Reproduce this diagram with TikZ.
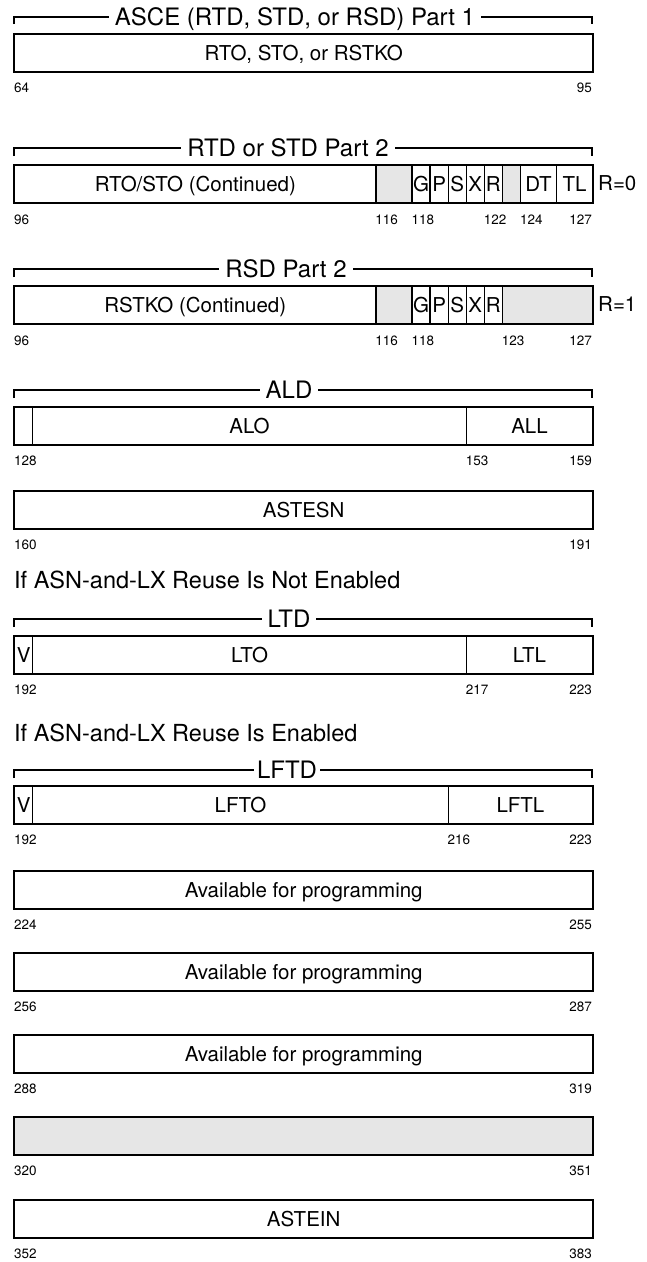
\documentclass[tikz,border=0pt]{standalone}
\usepackage{fontspec}
\setmainfont{TeX Gyre Heros}
\definecolor{shade}{HTML}{E6E6E6}
\tikzset{
  fld/.style={draw, line width=1.4pt, minimum height=37pt, inner sep=0pt,
    font=\fontsize{20.5}{21}\selectfont, text height=14.7pt, text depth=0pt, anchor=north west},
  gfld/.style={fld, fill=shade},
  outer/.style={draw, line width=2pt},
  num/.style={font=\fontsize{13.5}{14}\selectfont, inner sep=0pt, text height=9.7pt, text depth=0pt},
  ttl/.style={fill=white, font=\fontsize{24}{25}\selectfont, inner xsep=6pt, inner ysep=1pt,
    text height=17.2pt, text depth=0pt},
  brk/.style={line width=1.6pt},
  cond/.style={font=\fontsize{23.5}{25}\selectfont, anchor=west, inner sep=0pt,
    text height=16.8pt, text depth=0pt},
  side/.style={font=\fontsize{20.5}{21}\selectfont, anchor=west, inner sep=0pt,
    text height=14.7pt, text depth=0pt},
}
\begin{document}
\begin{tikzpicture}[x=1pt, y=-1pt]
\useasboundingbox (0,0) rectangle (647,1262);

% ---------- Row 1 : ASCE Part 1 ----------
\draw[brk] (14,24) -- (14,17) -- (592,17) -- (592,24);
\node[ttl] (t1) at (295,17) {ASCE (RTD, STD, or RSD) Part 1};
\node[fld, minimum width=578pt] (r1) at (14,34) {RTO, STO, or RSTKO};
\draw[outer] (r1.north west) rectangle (r1.south east);
\node[num, anchor=west] (n64) at (14,88) {64};
\node[num, anchor=east] (n95) at (592,88) {95};

% ---------- Row 2 : RTD or STD Part 2 ----------
\draw[brk] (14,156) -- (14,148) -- (592,148) -- (592,156);
\node[ttl] (t2) at (288,148) {RTD or STD Part 2};
\node[fld, minimum width=361.25pt] (rto) at (14,165) {RTO/STO (Continued)};
\node[gfld, minimum width=36.15pt] (g2a) at (375.25,165) {};
\node[fld, minimum width=18.05pt] (g2) at (411.4,165) {G};
\node[fld, minimum width=18.1pt] (p2) at (429.4,165) {P};
\node[fld, minimum width=18.1pt] (s2) at (447.5,165) {S};
\node[fld, minimum width=18.05pt] (x2) at (465.6,165) {X};
\node[fld, minimum width=18.1pt] (rr2) at (483.6,165) {R};
\node[gfld, minimum width=18.1pt] (g2b) at (501.7,165) {};
\node[fld, minimum width=36.1pt] (dt) at (519.8,165) {DT};
\node[fld, minimum width=36.1pt] (tl) at (555.9,165) {TL};
\draw[outer] (rto.north west) rectangle (tl.south east);
\node[side] (r0) at (598,183.5) {R=0};
\node[num, anchor=west] (n96a) at (14,220) {96};
\node[num, anchor=west] (n116a) at (375.25,220) {116};
\node[num, anchor=west] (n118a) at (411.4,220) {118};
\node[num, anchor=west] (n122a) at (483.6,220) {122};
\node[num, anchor=west] (n124a) at (519.8,220) {124};
\node[num, anchor=east] (n127a) at (592,220) {127};

% ---------- Row 3 : RSD Part 2 ----------
\draw[brk] (14,277) -- (14,269) -- (592,269) -- (592,277);
\node[ttl] (t3) at (286,269) {RSD Part 2};
\node[fld, minimum width=361.25pt] (rstko) at (14,286) {RSTKO (Continued)};
\node[gfld, minimum width=36.15pt] (g3a) at (375.25,286) {};
\node[fld, minimum width=18.05pt] (g3) at (411.4,286) {G};
\node[fld, minimum width=18.1pt] (p3) at (429.4,286) {P};
\node[fld, minimum width=18.1pt] (s3) at (447.5,286) {S};
\node[fld, minimum width=18.05pt] (x3) at (465.6,286) {X};
\node[fld, minimum width=18.1pt] (rr3) at (483.6,286) {R};
\node[gfld, minimum width=90.3pt] (g3b) at (501.7,286) {};
\draw[outer] (rstko.north west) rectangle (g3b.south east);
\node[side] (r1l) at (598,304.5) {R=1};
\node[num, anchor=west] (n96b) at (14,341) {96};
\node[num, anchor=west] (n116b) at (375.25,341) {116};
\node[num, anchor=west] (n118b) at (411.4,341) {118};
\node[num, anchor=west] (n123b) at (501.7,341) {123};
\node[num, anchor=east] (n127b) at (592,341) {127};

% ---------- Row 4 : ALD ----------
\draw[brk] (14,398) -- (14,390) -- (592,390) -- (592,398);
\node[ttl] (t4) at (289,390) {ALD};
\node[fld, minimum width=18.06pt] (ald0) at (14,407) {};
\node[fld, minimum width=433.5pt] (alo) at (32.06,407) {ALO};
\node[fld, minimum width=126.44pt] (all) at (465.56,407) {ALL};
\draw[outer] (ald0.north west) rectangle (all.south east);
\node[num, anchor=west] (n128) at (14,461) {128};
\node[num, anchor=west] (n153) at (465.56,461) {153};
\node[num, anchor=east] (n159) at (592,461) {159};

% ---------- ASTESN ----------
\node[fld, minimum width=578pt] (astesn) at (14,491) {ASTESN};
\draw[outer] (astesn.north west) rectangle (astesn.south east);
\node[num, anchor=west] (n160) at (14,545) {160};
\node[num, anchor=east] (n191) at (592,545) {191};

% ---------- LTD ----------
\node[cond] (ifnot) at (14,580) {If ASN-and-LX Reuse Is Not Enabled};
\draw[brk] (14,627) -- (14,619) -- (592,619) -- (592,627);
\node[ttl] (t5) at (289,619) {LTD};
\node[fld, minimum width=18.06pt] (v1) at (14,636) {V};
\node[fld, minimum width=433.5pt] (lto) at (32.06,636) {LTO};
\node[fld, minimum width=126.44pt] (ltl) at (465.56,636) {LTL};
\draw[outer] (v1.north west) rectangle (ltl.south east);
\node[num, anchor=west] (n192a) at (14,690) {192};
\node[num, anchor=west] (n217) at (465.56,690) {217};
\node[num, anchor=east] (n223a) at (592,690) {223};

% ---------- LFTD ----------
\node[cond] (ifen) at (14,733) {If ASN-and-LX Reuse Is Enabled};
\draw[brk] (14,778) -- (14,770) -- (592,770) -- (592,778);
\node[ttl, inner xsep=3pt] (t6) at (287,770) {LFTD};
\node[fld, minimum width=18.06pt] (v2) at (14,786) {V};
\node[fld, minimum width=415.44pt] (lfto) at (32.06,786) {LFTO};
\node[fld, minimum width=144.5pt] (lftl) at (447.5,786) {LFTL};
\draw[outer] (v2.north west) rectangle (lftl.south east);
\node[num, anchor=west] (n192b) at (14,840) {192};
\node[num, anchor=west] (n216) at (447.5,840) {216};
\node[num, anchor=east] (n223b) at (592,840) {223};

% ---------- Available rows ----------
\node[fld, minimum width=578pt] (av1) at (14,871) {Available for programming};
\draw[outer] (av1.north west) rectangle (av1.south east);
\node[num, anchor=west] (n224) at (14,925) {224};
\node[num, anchor=east] (n255) at (592,925) {255};

\node[fld, minimum width=578pt] (av2) at (14,953) {Available for programming};
\draw[outer] (av2.north west) rectangle (av2.south east);
\node[num, anchor=west] (n256) at (14,1007) {256};
\node[num, anchor=east] (n287) at (592,1007) {287};

\node[fld, minimum width=578pt] (av3) at (14,1035) {Available for programming};
\draw[outer] (av3.north west) rectangle (av3.south east);
\node[num, anchor=west] (n288) at (14,1089) {288};
\node[num, anchor=east] (n319) at (592,1089) {319};

\node[gfld, minimum width=578pt] (res) at (14,1117) {};
\draw[outer] (res.north west) rectangle (res.south east);
\node[num, anchor=west] (n320) at (14,1171) {320};
\node[num, anchor=east] (n351) at (592,1171) {351};

\node[fld, minimum width=578pt] (astein) at (14,1200) {ASTEIN};
\draw[outer] (astein.north west) rectangle (astein.south east);
\node[num, anchor=west] (n352) at (14,1254) {352};
\node[num, anchor=east] (n383) at (592,1254) {383};
\end{tikzpicture}
\end{document}
